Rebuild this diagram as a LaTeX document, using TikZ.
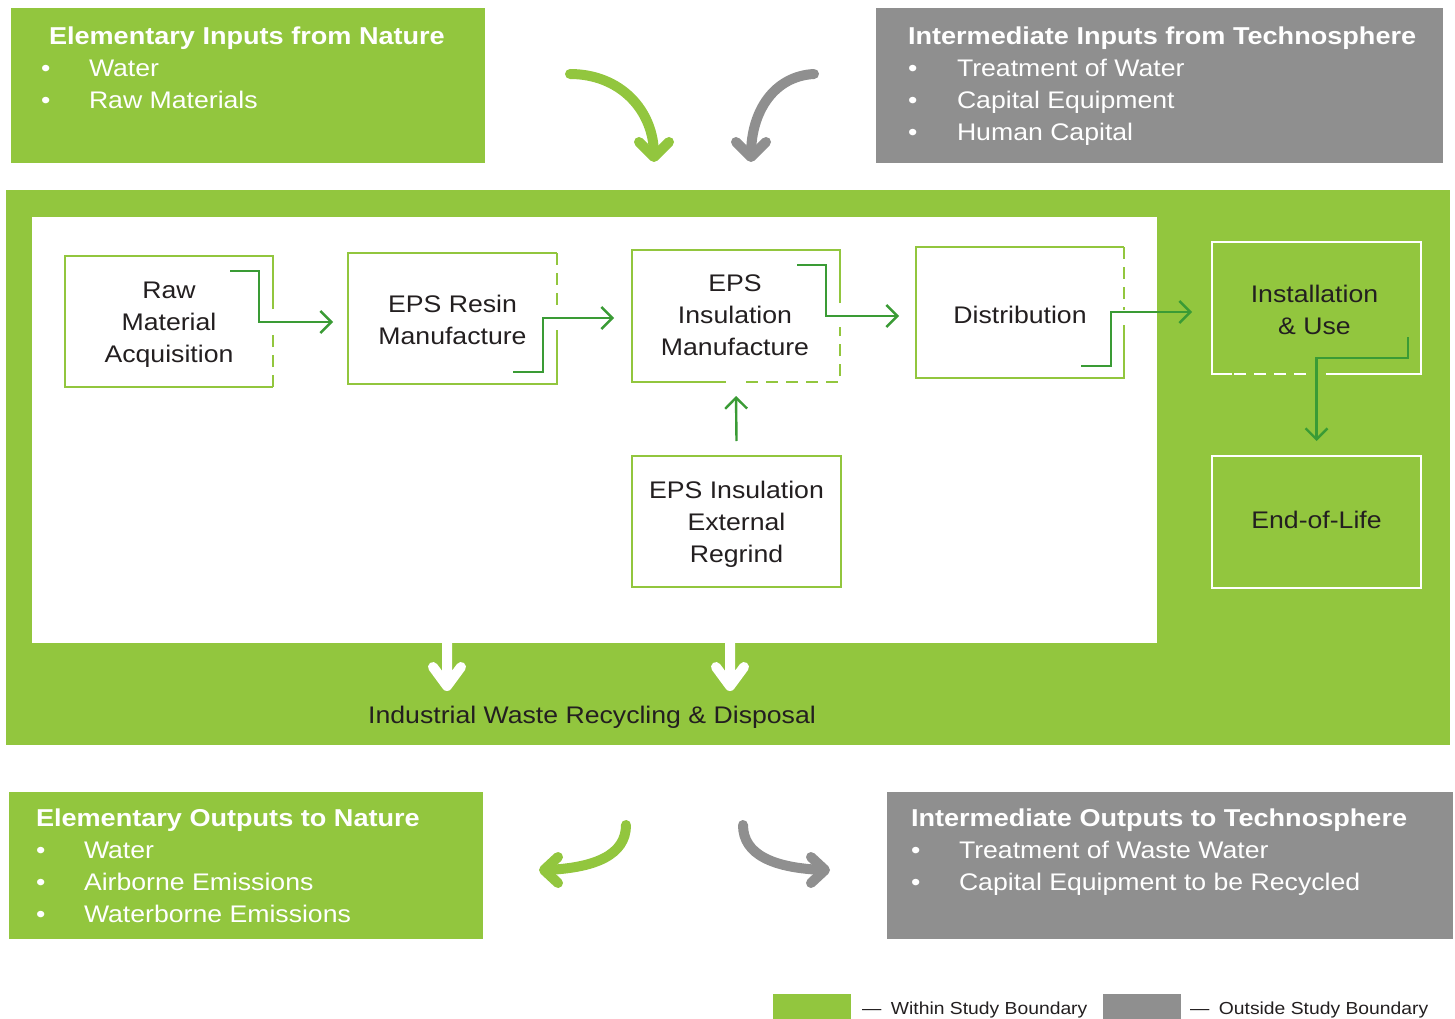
\documentclass[tikz,border=0pt]{standalone}
\usepackage{fontspec}
\setmainfont{Liberation Sans}[FakeStretch=1.11]
\usetikzlibrary{arrows.meta}
\definecolor{lgreen}{RGB}{146,198,62}
\definecolor{dgreen}{RGB}{58,155,53}
\definecolor{mgray}{RGB}{143,143,143}
\definecolor{txt}{RGB}{35,31,32}
\begin{document}
\begin{tikzpicture}[x=1pt,y=-1pt,
  every node/.style={inner sep=0pt, outer sep=0pt},
  panel/.style={anchor=north west, draw=none},
  ttl/.style={anchor=base west, text=white, font=\fontsize{24.4}{32}\selectfont\bfseries},
  itm/.style={anchor=base west, text=white, font=\fontsize{24}{32}\selectfont},
  procbox/.style={minimum width=208pt, minimum height=131pt},
  ptext/.style={align=center, text=txt, font=\fontsize{24}{32}\selectfont},
  boxline/.style={draw=lgreen, line width=2.6pt},
  wline/.style={draw=white, line width=2.6pt},
  dashes/.style={dash pattern=on 12pt off 8pt},
  flow/.style={draw=dgreen, line width=2.4pt, -{Straight Barb[length=11pt,width=22pt]}},
  bigarrow/.style={line width=10pt, line cap=round, line join=round},
  legtext/.style={anchor=base west, text=txt, font=\fontsize{17.4}{20}\selectfont},
]
\useasboundingbox (0,0) rectangle (1455,1019);

% ---------- top panels ----------
\node[panel, fill=lgreen, minimum width=474pt, minimum height=155pt] (einbox) at (11,8) {};
\node[ttl] (eint) at (49,45) {Elementary Inputs from Nature};
\node[itm] (einb1) at (41,77) {•};
\node[itm] (eini1) at (89,77) {Water};
\node[itm] (einb2) at (41,109) {•};
\node[itm] (eini2) at (89,109) {Raw Materials};

\node[panel, fill=mgray, minimum width=567pt, minimum height=155pt] (iinbox) at (876,8) {};
\node[ttl] (iint) at (908,45) {Intermediate Inputs from Technosphere};
\node[itm] (iinb1) at (908,77) {•};
\node[itm] (iini1) at (957,77) {Treatment of Water};
\node[itm] (iinb2) at (908,109) {•};
\node[itm] (iini2) at (957,109) {Capital Equipment};
\node[itm] (iinb3) at (908,141) {•};
\node[itm] (iini3) at (957,141) {Human Capital};

% top curved arrows
\draw[bigarrow, lgreen] (570,74) .. controls (620,74) and (654,110) .. (654,155);
\draw[bigarrow, lgreen] (639,142) -- (654,157) -- (669,142);
\draw[bigarrow, mgray] (814,74) .. controls (775,76) and (751,110) .. (751,155);
\draw[bigarrow, mgray] (736,142) -- (751,157) -- (766,142);

% ---------- study boundary band ----------
\node[panel, fill=lgreen, minimum width=1444pt, minimum height=555pt] (band) at (6,190) {};
\node[panel, fill=white, minimum width=1125pt, minimum height=426pt] (inner) at (32,217) {};

% process boxes
\node[procbox] (raw) at (169,321.5) {};
\node[ptext] (rawt) at ([yshift=-3pt]raw.center) {Raw\\Material\\Acquisition};
\draw[boxline] ([yshift=-53pt]raw.north east) -- (raw.north east) -- (raw.north west) -- (raw.south west) -- (raw.south east);
\draw[boxline, dashes] (raw.south east) -- ([yshift=55pt]raw.south east);

\node[procbox, minimum width=209pt] (resin) at (452.5,318.5) {};
\node[ptext] (resint) at ([yshift=-1pt]resin.center) {EPS Resin\\Manufacture};
\draw[boxline] ([yshift=54pt]resin.south east) -- (resin.south east) -- (resin.south west) -- (resin.north west) -- (resin.north east);
\draw[boxline, dashes] (resin.north east) -- ([yshift=-54pt]resin.north east);

\node[procbox, minimum height=132pt] (ins) at (736,316) {};
\node[ptext] (inst0) at ([xshift=-1pt,yshift=1pt]ins.center) {EPS\\Insulation\\Manufacture};
\draw[boxline] ([yshift=-53pt]ins.north east) -- (ins.north east) -- (ins.north west) -- (ins.south west) -- ([xshift=94pt]ins.south west);
\draw[boxline, dashes] ([xshift=-94pt]ins.south east) -- (ins.south east) -- ([yshift=55pt]ins.south east);

\node[procbox] (dist) at (1020,312.5) {};
\node[ptext] (distt) at ([yshift=-2pt]dist.center) {Distribution};
\draw[boxline] ([yshift=53pt]dist.south east) -- (dist.south east) -- (dist.south west) -- (dist.north west) -- (dist.north east);
\draw[boxline, dashes] (dist.north east) -- ([yshift=-63pt]dist.north east);

\node[procbox, minimum width=209pt] (regrind) at (736.5,521.5) {};
\node[ptext] (regrindt) at ([yshift=-3pt]regrind.center) {EPS Insulation\\External\\Regrind};
\draw[boxline] (regrind.north west) rectangle (regrind.south east);

\node[procbox, minimum width=209pt, minimum height=132pt] (inst) at (1316.5,308) {};
\node[ptext] (instt) at ([xshift=-2pt,yshift=-2pt]inst.center) {Installation\\\& Use};
\draw[wline] ([xshift=20pt]inst.south west) -- (inst.south west) -- (inst.north west) -- (inst.north east) -- (inst.south east) -- ([xshift=-95pt]inst.south east);
\draw[wline, dashes] ([xshift=22pt]inst.south west) -- ([xshift=100pt]inst.south west);

\node[procbox, minimum width=209pt, minimum height=132pt] (eol) at (1316.5,522) {};
\node[ptext] (eolt) at ([yshift=2pt]eol.center) {End-of-Life};
\draw[wline] (eol.north west) rectangle (eol.south east);

% flows
\coordinate (f1s) at (230,271); \coordinate (f1e) at (333,322);
\draw[flow] (f1s) -- ++(29,0) |- (f1e);
\coordinate (f2s) at (513,372); \coordinate (f2e) at (614,318);
\draw[flow] (f2s) -- ++(30,0) |- (f2e);
\coordinate (f3s) at (797,265); \coordinate (f3e) at (899,316);
\draw[flow] (f3s) -- ++(29,0) |- (f3e);
\coordinate (f4s) at (1081,366); \coordinate (f4e) at (1192,312);
\draw[flow] (f4s) -- ++(30,0) |- (f4e);
\coordinate (f5s) at (1408,337);
\draw[flow] (f5s) -- ++(0,21) -| ([yshift=15pt]eol.north);
\draw[flow] ([yshift=15pt]regrind.north) -- ([yshift=-14pt]ins.south);

% waste arrows
\draw[bigarrow, white] (447,640) -- (447,686) (433,667) -- (447,686) -- (461,667);
\draw[bigarrow, white] (730,640) -- (730,686) (716,667) -- (730,686) -- (744,667);
\node[text=txt, font=\fontsize{24}{32}\selectfont] (waste) at (592,717) {Industrial Waste Recycling \& Disposal};

% ---------- bottom ----------
\draw[bigarrow, lgreen] (626,825) .. controls (626,855) and (595,868) .. (546,870);
\draw[bigarrow, lgreen] (558,857) -- (544,870) -- (558,883);
\draw[bigarrow, mgray] (743,825) .. controls (743,855) and (774,868) .. (823,870);
\draw[bigarrow, mgray] (811,857) -- (825,870) -- (811,883);

\node[panel, fill=lgreen, minimum width=474pt, minimum height=147pt] (eoutbox) at (9,792) {};
\node[ttl] (eoutt) at (36,826) {Elementary Outputs to Nature};
\node[itm] (eoutb1) at (36,858) {•};
\node[itm] (eouti1) at (84,858) {Water};
\node[itm] (eoutb2) at (36,890) {•};
\node[itm] (eouti2) at (84,890) {Airborne Emissions};
\node[itm] (eoutb3) at (36,922) {•};
\node[itm] (eouti3) at (84,922) {Waterborne Emissions};

\node[panel, fill=mgray, minimum width=566pt, minimum height=147pt] (ioutbox) at (887,792) {};
\node[ttl] (ioutt) at (911,826) {Intermediate Outputs to Technosphere};
\node[itm] (ioutb1) at (911,858) {•};
\node[itm] (iouti1) at (959,858) {Treatment of Waste Water};
\node[itm] (ioutb2) at (911,890) {•};
\node[itm] (iouti2) at (959,890) {Capital Equipment to be Recycled};

% legend
\node[panel, fill=lgreen, minimum width=78pt, minimum height=25pt] (leg1) at (773,994) {};
\node[legtext] (leg1t) at (862,1014) {—\hspace{0.55em}Within Study Boundary};
\node[panel, fill=mgray, minimum width=78pt, minimum height=25pt] (leg2) at (1103,994) {};
\node[legtext] (leg2t) at (1190,1014) {—\hspace{0.55em}Outside Study Boundary};
\end{tikzpicture}
\end{document}
